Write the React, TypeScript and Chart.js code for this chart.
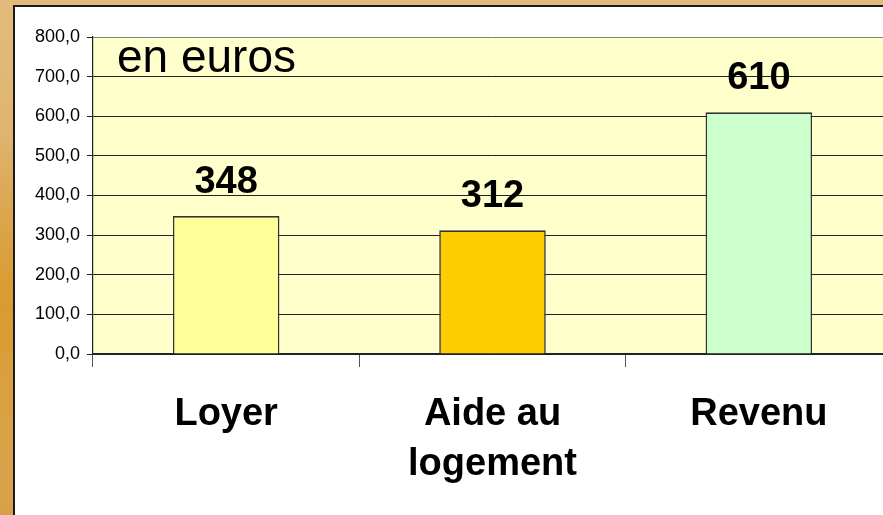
import React, { useEffect, useRef } from "react";
import { Chart, registerables } from "chart.js";

Chart.register(...registerables);

const categories: (string | string[])[] = ["Loyer", ["Aide au", "logement"], "Revenu"];
const values: number[] = [348, 312, 610];
const barColors: string[] = ["#FFFF99", "#FFCC00", "#CCFFCC"];
const yTicks: number[] = [0, 100, 200, 300, 400, 500, 600, 700, 800];
const unitLabel = "en euros";

const FONT = "'Liberation Sans', Arial, sans-serif";

export default function App() {
  const ref = useRef<HTMLCanvasElement | null>(null);

  useEffect(() => {
    document.body.style.margin = "0";
    document.body.style.overflow = "hidden";
    const canvas = ref.current;
    if (!canvas) return;

    const bgPlugin = {
      id: "plotBg",
      beforeDraw(chart: any) {
        const { ctx, chartArea } = chart;
        ctx.save();
        ctx.fillStyle = "#FFFFCC";
        ctx.fillRect(chartArea.left, chartArea.top, chartArea.right - chartArea.left, chartArea.bottom - chartArea.top);
        ctx.restore();
      },
    };

    const labelPlugin = {
      id: "valueLabels",
      afterDatasetsDraw(chart: any) {
        const { ctx, chartArea } = chart;
        const meta = chart.getDatasetMeta(0);
        ctx.save();
        ctx.fillStyle = "#000";
        ctx.font = `bold 38px ${FONT}`;
        ctx.textAlign = "center";
        ctx.textBaseline = "alphabetic";
        meta.data.forEach((bar: any, i: number) => {
          ctx.fillText(String(values[i]), bar.x, bar.y - 23);
        });
        ctx.font = `46px ${FONT}`;
        ctx.textAlign = "left";
        ctx.fillText(unitLabel, chartArea.left + 24, chartArea.top + 35);
        ctx.restore();
      },
    };

    const chart = new Chart(canvas, {
      type: "bar",
      data: {
        labels: categories as any,
        datasets: [
          {
            data: values,
            backgroundColor: barColors,
            borderColor: "#333",
            borderWidth: 1.6,
            barPercentage: 0.4,
            categoryPercentage: 1,
          },
        ],
      },
      options: {
        responsive: false,
        animation: false,
        events: [],
        layout: { padding: { left: 0, right: 18, top: 37, bottom: 0 } },
        plugins: {
          legend: { display: false },
          tooltip: { enabled: false },
        },
        scales: {
          x: {
            offset: true,
            grid: {
              offset: true,
              drawOnChartArea: false,
              drawTicks: true,
              tickLength: 13,
              color: "#555",
              tickColor: "#555",
            },
            border: { display: true, color: "#222", width: 1.6 },
            ticks: {
              color: "#000",
              padding: 22,
              font: { family: FONT, size: 38, weight: "bold", lineHeight: 1.32 },
              maxRotation: 0,
              autoSkip: false,
            },
            afterFit(scale: any) {
              scale.height = 161;
            },
          },
          y: {
            min: 0,
            max: 800,
            afterBuildTicks(scale: any) {
              scale.ticks = yTicks.map((v) => ({ value: v }));
            },
            grid: {
              color: (ctx: any) => (ctx.tick && ctx.tick.value === 800 ? "#808080" : "#222"),
              tickColor: "#222",
              tickLength: 6,
              lineWidth: 1,
            },
            border: { display: true, color: "#222", width: 1.2 },
            ticks: {
              color: "#000",
              padding: 7,
              font: { family: FONT, size: 18 },
              callback: (v: any) => Number(v).toFixed(1).replace(".", ","),
            },
            afterFit(scale: any) {
              scale.width = 93;
            },
          },
        },
      },
      plugins: [bgPlugin, labelPlugin],
    });

    return () => chart.destroy();
  }, []);

  return (
    <div
      style={{
        position: "fixed",
        left: 0,
        top: 0,
        width: 883,
        height: 515,
        overflow: "hidden",
        background:
          "radial-gradient(ellipse at 5% 60%, #D99A2E 0%, rgba(217,154,46,0) 40%), linear-gradient(180deg, #E2BB7C 0%, #DDAE62 50%, #D8A048 100%)",
      }}
    >
      <div
        style={{
          position: "absolute",
          left: 13,
          top: 5,
          width: 1000,
          height: 1000,
          background: "#fff",
          border: "2px solid #1a1a1a",
        }}
      />
      <canvas
        ref={ref}
        width={910}
        height={515}
        style={{ position: "absolute", left: 0, top: 0, width: 910, height: 515 }}
      />
    </div>
  );
}
